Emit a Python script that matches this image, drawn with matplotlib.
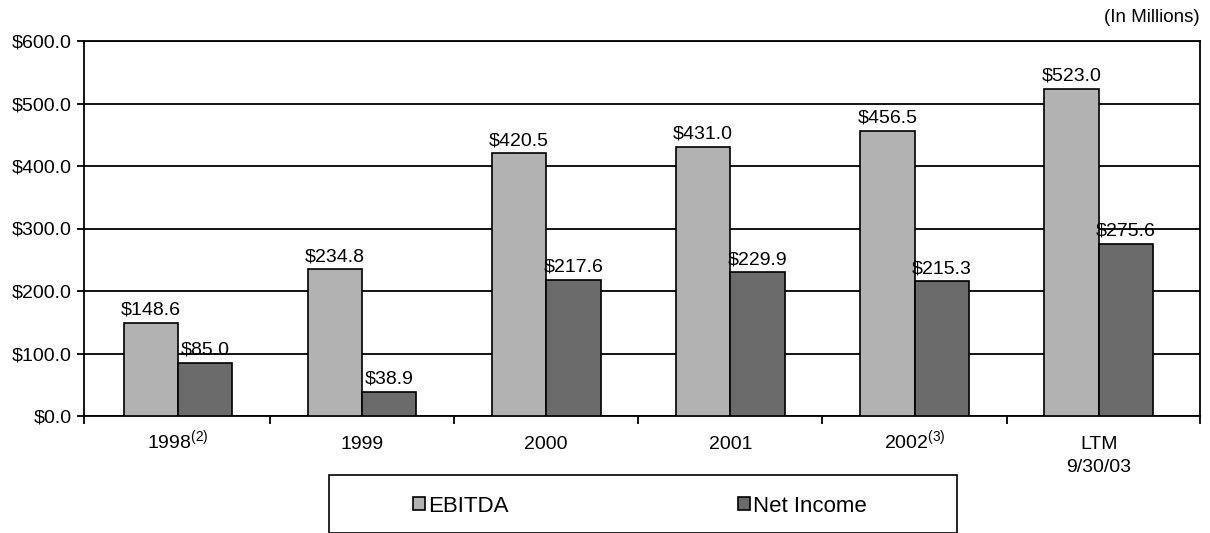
import numpy as np
import matplotlib
matplotlib.use("Agg")
import matplotlib.pyplot as plt
from matplotlib.patches import Rectangle

categories = ["1998$^{(2)}$", "1999", "2000", "2001", "2002$^{(3)}$", "LTM"]
ltm_sub = "9/30/03"
ebitda = [148.6, 234.8, 420.5, 431.0, 456.5, 523.0]
net_income = [85.0, 38.9, 217.6, 229.9, 215.3, 275.6]
series_names = ["EBITDA", "Net Income"]
y_ticks = [0, 100, 200, 300, 400, 500, 600]

plt.rcParams["font.family"] = ["Liberation Sans", "DejaVu Sans"]
plt.rcParams["font.size"] = 14
plt.rcParams["mathtext.fontset"] = "custom"
plt.rcParams["mathtext.rm"] = "Liberation Sans"

W, H = 1210, 533
fig = plt.figure(figsize=(W / 100, H / 100), dpi=100)
ax = fig.add_axes([84 / W, 1 - 416 / H, (1200 - 84) / W, (416 - 41) / H])

x = np.arange(len(categories))
bw = 0.295
c1, c2 = "#b2b2b2", "#6b6b6b"
b1 = ax.bar(x - bw / 2, ebitda, bw, color=c1, edgecolor="black", linewidth=1.2,
            label=series_names[0], zorder=3)
b2 = ax.bar(x + bw / 2, net_income, bw, color=c2, edgecolor="black", linewidth=1.2,
            label=series_names[1], zorder=3)

for bars, vals in ((b1, ebitda), (b2, net_income)):
    for r, v in zip(bars, vals):
        ax.annotate(f"${v:.1f}", (r.get_x() + r.get_width() / 2, v),
                    xytext=(0, 3), textcoords="offset points",
                    ha="center", va="bottom", fontsize=14)

xlo, xhi = -0.51, len(categories) - 0.45
ax.set_xlim(xlo, xhi)
ax.set_ylim(0, 600)
ax.set_yticks(y_ticks)
ax.set_yticklabels([f"${v:.1f}" for v in y_ticks])
ax.yaxis.grid(True, color="black", linewidth=1.3, zorder=0)
ax.set_axisbelow(True)

ax.set_xticks(x)
ax.set_xticklabels(categories)
for tl in ax.get_xticklabels():
    tl.set_verticalalignment("baseline")
ax.tick_params(axis="x", which="major", length=0, pad=24, labelsize=14)
# second line under LTM
ax.annotate(ltm_sub, xy=(x[-1], 0), xycoords=("data", "axes fraction"),
            xytext=(0, -40.5), textcoords="offset points",
            ha="center", va="baseline", fontsize=14)
ax.set_xticks([xlo] + list(np.arange(0.5, len(categories) - 1)) + [xhi], minor=True)
ax.tick_params(axis="x", which="minor", length=6, width=1.3, direction="out")
ax.tick_params(axis="y", length=5, width=1.3, pad=4, labelsize=14)
for s in ax.spines.values():
    s.set_linewidth(1.3)

fig.text(1200 / W, 1 - 18 / H, "(In Millions)", ha="right", va="center", fontsize=13.5)

# legend box
fig.patches.append(Rectangle((329 / W, 0.0), (957 - 329) / W, (533 - 475) / H,
                             transform=fig.transFigure, fill=False,
                             edgecolor="black", linewidth=1.2))
fig.legend(handles=[b1, b2], loc="center", bbox_to_anchor=(640 / W, 1 - 506 / H),
           ncol=2, frameon=False, handlelength=0.55, handleheight=0.55,
           handletextpad=0.15, columnspacing=10.3, fontsize=16)

fig.savefig("out.png", dpi=100)
